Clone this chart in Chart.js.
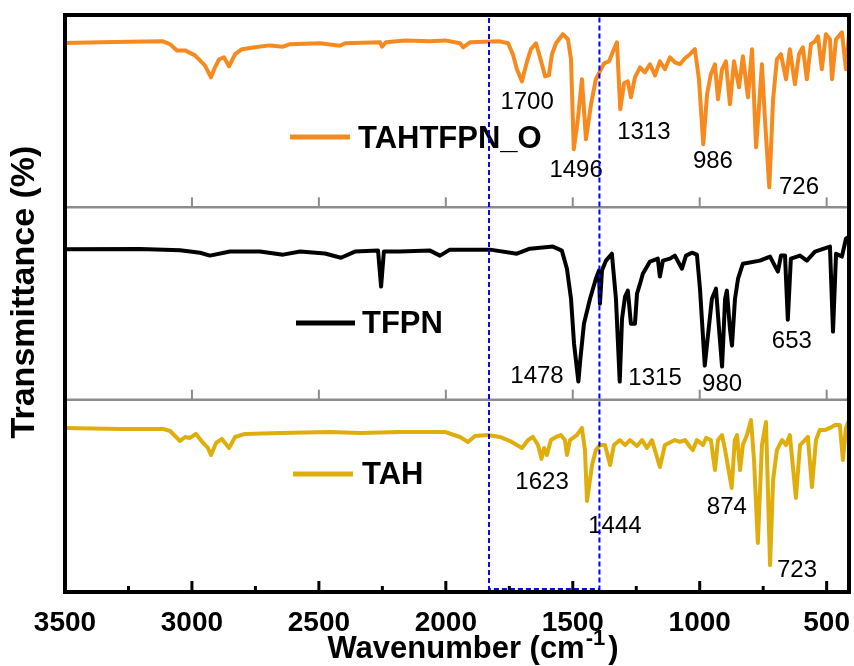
<!DOCTYPE html>
<html>
<head>
<meta charset="utf-8">
<script src="https://cdn.jsdelivr.net/npm/chart.js@4"></script>
<style>
  body { margin: 0; background: #fff; }
  canvas { display: block; }
</style>
</head>
<body>
<canvas id="ftir" width="854" height="666"></canvas>
<script>
// FTIR spectra, wavenumber (cm-1) and relative transmittance inside each band
var tahtfpnWn = [3500,3362,3244,3114,3086,3059,3027,2988,2949,2925,2909,2893,2874,2854,2830,2803,2752,2693,2641,2614,2496,2417,2397,2259,2251,2236,2161,2062,2003,1944,1932,1905,1787,1755,1736,1720,1700,1680,1665,1645,1629,1609,1594,1582,1566,1539,1519,1507,1496,1480,1464,1448,1428,1409,1393,1377,1357,1338,1326,1313,1298,1283,1271,1255,1235,1216,1196,1176,1157,1137,1117,1098,1078,1058,1038,1019,1003,986,971,956,940,928,912,897,881,865,845,830,810,794,778,767,755,743,726,711,696,680,660,645,625,609,594,578,562,546,534,519,503,487,479,463,440,424,412];
var tahtfpnT = [85.5,85.8,86.1,86.3,84.8,81.6,81.6,79.0,73.8,67.6,72.8,77.0,78.0,73.3,79.6,82.2,83.2,84.2,83.5,84.8,85.3,84.0,85.3,85.8,83.5,85.8,86.8,86.3,86.8,85.3,83.2,85.8,86.3,85.3,79.6,71.8,65.5,75.9,82.2,85.3,78.0,68.1,68.6,79.6,85.3,90.0,87.4,77.0,30.2,45.8,66.6,35.4,53.6,66.6,70.7,74.9,75.9,82.2,85.8,51.0,64.5,65.5,57.2,67.6,72.8,70.2,74.4,68.6,75.9,71.8,78.0,75.4,74.4,77.5,79.6,82.2,66.6,32.8,58.8,69.2,74.4,56.2,71.8,75.9,53.6,75.9,62.4,78.5,57.2,82.2,31.2,51.0,74.4,45.8,10.4,56.2,77.0,79.6,66.6,82.2,64.0,79.6,83.2,66.6,84.8,86.3,88.9,71.8,90.0,87.4,66.6,87.4,91.0,71.8,90.0];

var tfpnWn = [3500,3205,3047,2968,2929,2850,2732,2641,2574,2476,2413,2358,2267,2255,2244,2181,2062,2023,1984,1826,1720,1669,1578,1543,1523,1507,1495,1478,1470,1456,1432,1409,1397,1393,1385,1369,1346,1330,1315,1306,1294,1283,1271,1255,1247,1235,1224,1196,1165,1157,1145,1117,1098,1070,1054,1031,1011,999,980,971,952,936,924,912,900,893,881,873,861,849,830,763,723,692,680,664,653,641,605,578,546,487,475,463,440,424,412];
var tfpnT = [78.2,78.3,77.7,76.4,74.9,77.0,77.0,75.4,77.0,76.0,73.8,77.0,77.5,58.8,77.0,77.0,77.5,74.9,78.0,78.0,75.9,78.5,79.6,77.5,68.1,52.5,29.1,9.4,21.3,39.5,52.5,62.9,67.1,49.9,67.1,72.3,75.9,52.5,9.4,42.1,53.6,56.7,39.5,39.5,55.1,60.3,65.5,71.8,73.3,64.0,72.3,73.3,74.9,68.1,74.9,76.4,75.4,57.7,17.7,29.1,52.5,57.7,36.9,17.2,52.5,56.7,36.9,28.1,52.5,62.9,70.7,72.3,74.4,66.6,74.9,74.9,41.6,73.3,74.9,72.3,77.0,79.6,35.4,75.9,74.4,83.7,84.8];

var tahWn = [3500,3283,3114,3086,3047,3027,3008,2984,2956,2937,2925,2905,2882,2854,2830,2791,2653,2456,2338,2181,2003,1944,1913,1885,1834,1787,1747,1700,1676,1657,1637,1623,1613,1602,1586,1566,1547,1531,1523,1511,1484,1464,1452,1444,1424,1409,1393,1373,1353,1338,1314,1294,1275,1247,1227,1208,1188,1157,1137,1098,1078,1058,1038,1027,1011,987,975,956,940,928,912,900,874,862,853,841,830,814,798,786,771,755,739,723,711,696,676,660,645,621,605,586,574,558,542,527,507,487,467,448,436,424,412];
var tahT = [85.3,84.8,84.8,83.7,78.5,80.6,80.1,82.2,77.5,74.9,71.2,77.5,79.6,74.9,80.6,82.2,82.7,83.2,82.7,83.2,83.2,80.6,78.0,81.1,81.6,80.6,78.5,74.9,79.0,80.6,76.4,69.2,74.9,71.2,79.0,80.6,81.6,79.0,71.2,79.0,81.6,85.3,73.8,47.3,66.0,73.8,76.4,76.4,66.0,76.4,79.0,76.4,79.0,75.9,79.0,74.9,79.0,65.0,76.4,79.0,78.0,79.0,75.4,73.8,79.0,76.4,80.1,79.0,63.4,79.0,81.6,73.8,54.1,79.0,81.6,63.4,76.4,81.6,89.4,68.6,25.5,76.4,88.4,14.0,58.2,73.8,79.0,76.4,81.6,48.9,76.4,79.0,80.6,54.6,79.0,84.2,84.2,85.3,86.8,86.8,68.6,85.3,89.4];

// peak positions written next to each curve
var tahtfpnPeaks = [1700, 1496, 1313, 986, 726];
var tfpnPeaks = [1478, 1315, 980, 653];
var tahPeaks = [1623, 1444, 874, 723];

var xTicks = [3500, 3000, 2500, 2000, 1500, 1000, 500];
var xMinor = [3250, 2750, 2250, 1750, 1250, 750];
var boxRange = [1830, 1395];

var FONT = "'Liberation Sans', Arial, sans-serif";

function band(wn, t, offset) {
  var pts = [];
  for (var i = 0; i < wn.length; i++) {
    pts.push({x: wn[i], y: t[i] + offset});
  }
  return pts;
}

// where each peak number sits: [wavenumber, y] in chart units
var peakSpots = {
  1700: [1680, 251], 1496: [1487, 216], 1313: [1220, 235.5], 986: [948, 220.5], 726: [609, 207],
  1478: [1641, 108.5], 1315: [1176, 107.5], 980: [912, 104.5], 653: [637, 127],
  1623: [1621, 53.5], 1444: [1334, 30.5], 874: [893, 40.5], 723: [617, 7.7]
};

var series = [
  {name: 'TAHTFPN_O', color: '#f68a1e', peaks: tahtfpnPeaks, legend: [290, 350, 137, 358, 148]},
  {name: 'TFPN', color: '#000000', peaks: tfpnPeaks, legend: [296, 355, 323, 362, 333]},
  {name: 'TAH', color: '#e0ae0c', peaks: tahPeaks, legend: [293, 353, 474, 362, 484]}
];

var decor = {
  id: 'decor',
  beforeDatasetsDraw: function (chart) {
    var c = chart.ctx, x = chart.scales.x, y = chart.scales.y, a = chart.chartArea;
    c.save();
    // gray separators between the three bands
    c.strokeStyle = '#8c8c8c';
    [100, 200].forEach(function (v) {
      var py = y.getPixelForValue(v);
      c.lineWidth = 2.5;
      c.beginPath(); c.moveTo(a.left, py); c.lineTo(a.right, py); c.stroke();
      c.lineWidth = 2;
      xTicks.forEach(function (t) {
        var px = x.getPixelForValue(t);
        if (px <= a.left + 2) return;
        c.beginPath(); c.moveTo(px, py); c.lineTo(px, py - 10); c.stroke();
      });
    });
    c.restore();
  },
  afterDatasetsDraw: function (chart) {
    var c = chart.ctx, x = chart.scales.x, y = chart.scales.y, a = chart.chartArea;
    c.save();

    // legend entries
    series.forEach(function (s) {
      var L = s.legend;
      c.strokeStyle = s.color; c.lineWidth = 5;
      c.beginPath(); c.moveTo(L[0], L[2]); c.lineTo(L[1], L[2]); c.stroke();
      c.fillStyle = '#000'; c.font = 'bold 31px ' + FONT;
      c.textAlign = 'left'; c.textBaseline = 'alphabetic';
      c.fillText(s.name, L[3], L[4]);
    });

    // peak numbers
    c.font = '24px ' + FONT; c.textAlign = 'center'; c.fillStyle = '#000';
    series.forEach(function (s) {
      s.peaks.forEach(function (p) {
        var spot = peakSpots[p];
        c.fillText(String(p), x.getPixelForValue(spot[0]), y.getPixelForValue(spot[1]));
      });
    });

    // dashed box around the 1830-1395 region
    var bx0 = x.getPixelForValue(boxRange[0]), bx1 = x.getPixelForValue(boxRange[1]);
    c.strokeStyle = '#0000ff'; c.lineWidth = 2; c.setLineDash([5, 3]);
    c.strokeRect(bx0, a.top + 1, bx1 - bx0, a.bottom - a.top - 4);
    c.setLineDash([]);

    // frame and inward ticks on the bottom axis
    c.strokeStyle = '#000'; c.lineWidth = 4;
    c.strokeRect(a.left, a.top, a.right - a.left, a.bottom - a.top);
    c.lineWidth = 3;
    xTicks.forEach(function (t) {
      var px = x.getPixelForValue(t);
      if (px <= a.left + 2) return;
      c.beginPath(); c.moveTo(px, a.bottom); c.lineTo(px, a.bottom - 11); c.stroke();
    });
    xMinor.forEach(function (t) {
      var px = x.getPixelForValue(t);
      c.beginPath(); c.moveTo(px, a.bottom); c.lineTo(px, a.bottom - 6); c.stroke();
    });

    // axis titles
    c.fillStyle = '#000';
    c.font = 'bold 31px ' + FONT; c.textAlign = 'left'; c.textBaseline = 'alphabetic';
    var main = 'Wavenumber (cm';
    var w0 = c.measureText(main).width;
    c.font = 'bold 22px ' + FONT;
    var w1 = c.measureText('-1').width;
    c.font = 'bold 31px ' + FONT;
    var w2 = c.measureText(')').width;
    var tx = 473 - (w0 + w1 + 4 + w2) / 2;
    c.fillText(main, tx, 658);
    c.font = 'bold 22px ' + FONT;
    c.fillText('-1', tx + w0 + 1, 645);
    c.font = 'bold 31px ' + FONT;
    c.fillText(')', tx + w0 + w1 + 4, 658);

    c.translate(25, 292);
    c.rotate(-Math.PI / 2);
    c.font = 'bold 34px ' + FONT; c.textAlign = 'center'; c.textBaseline = 'middle';
    c.fillText('Transmittance (%)', 0, 0);
    c.restore();
  }
};

new Chart(document.getElementById('ftir'), {
  type: 'line',
  data: {
    datasets: [
      {label: 'TAHTFPN_O', data: band(tahtfpnWn, tahtfpnT, 200), borderColor: series[0].color},
      {label: 'TFPN', data: band(tfpnWn, tfpnT, 100), borderColor: series[1].color},
      {label: 'TAH', data: band(tahWn, tahT, 0), borderColor: series[2].color}
    ]
  },
  options: {
    responsive: false,
    animation: false,
    devicePixelRatio: 1,
    elements: {
      line: {borderWidth: 4, tension: 0, borderJoinStyle: 'round', borderCapStyle: 'round'},
      point: {radius: 0}
    },
    layout: {padding: {left: 65, right: 5, top: 15, bottom: 0}},
    plugins: {legend: {display: false}, tooltip: {enabled: false}},
    scales: {
      x: {
        type: 'linear', reverse: true, min: 412, max: 3500,
        afterBuildTicks: function (s) { s.ticks = xTicks.map(function (v) { return {value: v}; }); },
        afterFit: function (s) { s.height = 74; s.paddingLeft = 0; s.paddingRight = 0; },
        grid: {display: false, drawTicks: false},
        border: {display: false},
        ticks: {
          color: '#000', font: {family: FONT, weight: 'bold', size: 28}, padding: 14,
          maxRotation: 0, autoSkip: false,
          callback: function (v) { return String(v); }
        }
      },
      y: {display: false, min: 0, max: 300}
    }
  },
  plugins: [decor]
});
</script>
</body>
</html>
